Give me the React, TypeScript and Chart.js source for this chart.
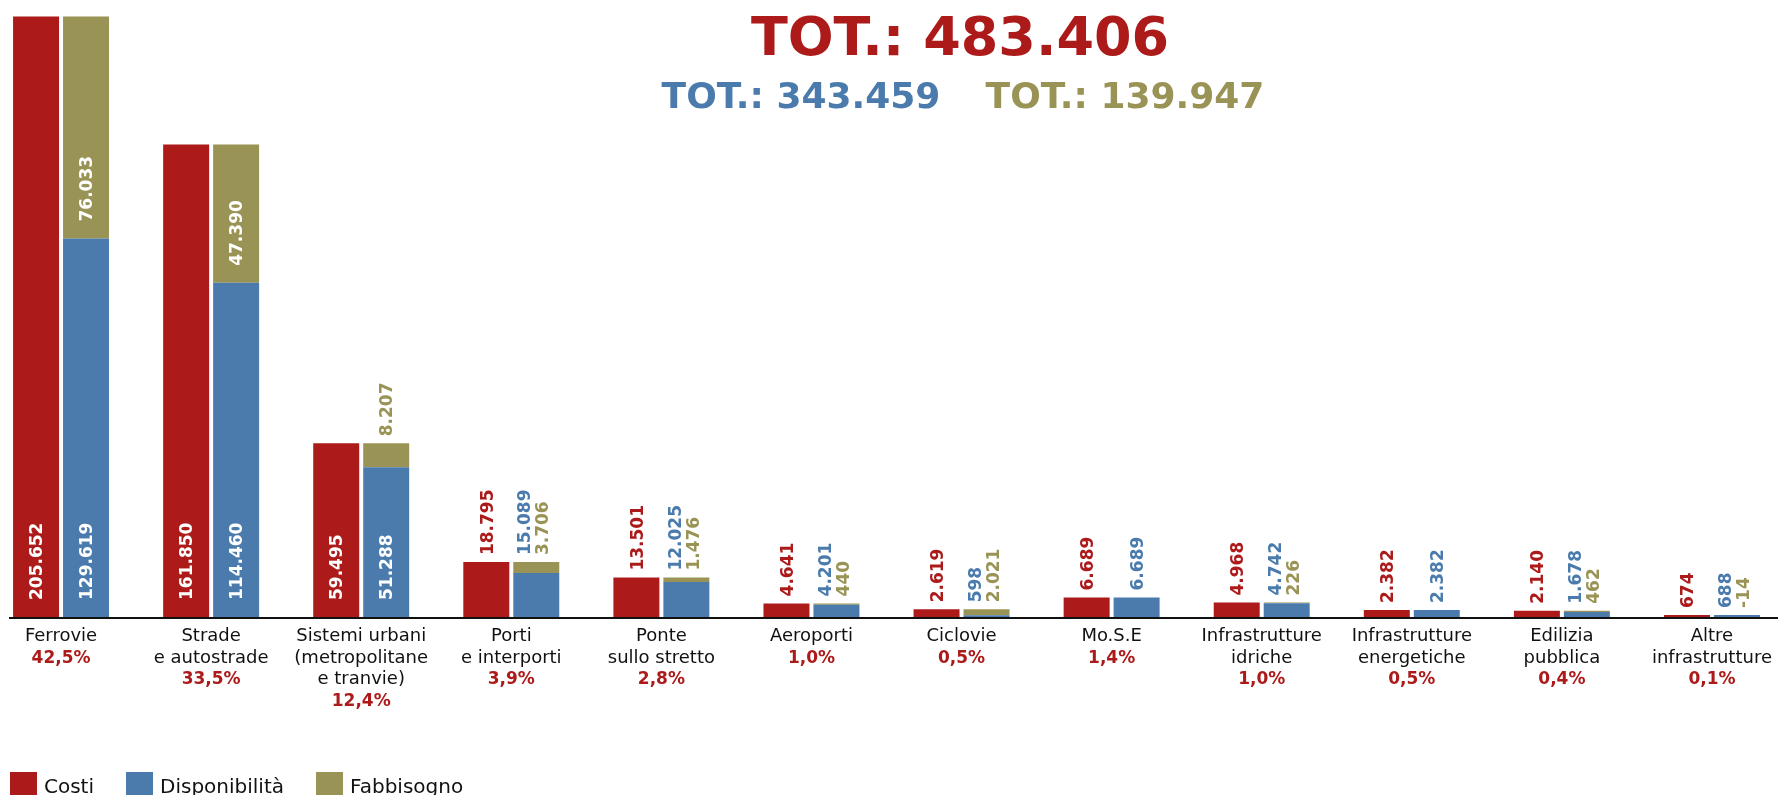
import { useEffect, useRef } from "react";
import { Chart, registerables } from "chart.js";
Chart.register(...registerables);

const categories = [
  ["Ferrovie"],
  ["Strade", "e autostrade"],
  ["Sistemi urbani", "(metropolitane", "e tranvie)"],
  ["Porti", "e interporti"],
  ["Ponte", "sullo stretto"],
  ["Aeroporti"],
  ["Ciclovie"],
  ["Mo.S.E"],
  ["Infrastrutture", "idriche"],
  ["Infrastrutture", "energetiche"],
  ["Edilizia", "pubblica"],
  ["Altre", "infrastrutture"],
];
const costi = [205652, 161850, 59495, 18795, 13501, 4641, 2619, 6689, 4968, 2382, 2140, 674];
const disponibilita = [129619, 114460, 51288, 15089, 12025, 4201, 598, 6689, 4742, 2382, 1678, 688];
const fabbisogno = [76033, 47390, 8207, 3706, 1476, 440, 2021, 0, 226, 0, 462, -14];
const percentuali = ["42,5%", "33,5%", "12,4%", "3,9%", "2,8%", "1,0%", "0,5%", "1,4%", "1,0%", "0,5%", "0,4%", "0,1%"];
const seriesNames = ["Costi", "Disponibilità", "Fabbisogno"];

const RED = "#AC1A1A";
const BLUE = "#4A7BAC";
const OLIVE = "#999355";
const OFF = 40; // canvas is shifted left by this amount
const FONT = '"DejaVu Sans", sans-serif';

const fmt = (n: number) => {
  const s = Math.abs(n).toString().replace(/\B(?=(\d{3})+(?!\d))/g, ".");
  return (n < 0 ? "-" : "") + s;
};
const sum = (a: number[]) => a.reduce((p, c) => p + c, 0);

const VAL_SIZE = 17;
const CAP = 0.73 * VAL_SIZE;

function vText(ctx: CanvasRenderingContext2D, text: string, cx: number, y: number, color: string) {
  ctx.save();
  ctx.translate(cx + CAP / 2, y);
  ctx.rotate(-Math.PI / 2);
  ctx.fillStyle = color;
  ctx.textAlign = "left";
  ctx.textBaseline = "alphabetic";
  ctx.font = `bold ${VAL_SIZE}px ${FONT}`;
  ctx.fillText(text, 0, 0);
  ctx.restore();
}

const overlay = {
  id: "overlay",
  afterDatasetsDraw(chart: any) {
    const ctx: CanvasRenderingContext2D = chart.ctx;
    const ys = chart.scales.y;
    const xs = chart.scales.x;
    const base = ys.getPixelForValue(0);
    const mR = chart.getDatasetMeta(0).data;
    const mB = chart.getDatasetMeta(1).data;
    ctx.save();
    // axis line
    ctx.fillStyle = "#111";
    ctx.fillRect(9 + OFF, base, chart.width, 2);

    ctx.font = `bold ${VAL_SIZE}px ${FONT}`;
    const fits = (txt: string, h: number) => h > ctx.measureText(txt).width + 30;

    categories.forEach((_, i) => {
      // red bar
      const r = mR[i];
      const rt = fmt(costi[i]);
      const rh = base - ys.getPixelForValue(costi[i]);
      if (fits(rt, rh)) vText(ctx, rt, r.x, base - 17, "#fff");
      else vText(ctx, rt, r.x, base - rh - 7, RED);

      // blue/olive stack
      const b = mB[i];
      const bt = fmt(disponibilita[i]);
      const bh = base - ys.getPixelForValue(disponibilita[i]);
      const hasOl = fabbisogno[i] !== 0;
      const ot = fmt(fabbisogno[i]);
      const topVal = disponibilita[i] + Math.max(fabbisogno[i], 0);
      const topY = ys.getPixelForValue(topVal);
      const blueTop = ys.getPixelForValue(disponibilita[i]);
      const oh = blueTop - topY;
      const bIn = fits(bt, bh);
      const oIn = hasOl && fits(ot, oh);
      if (bIn) vText(ctx, bt, b.x, base - 17, "#fff");
      if (oIn) vText(ctx, ot, b.x, blueTop - 17, "#fff");
      const outs: [string, string][] = [];
      if (!bIn) outs.push([bt, BLUE]);
      if (hasOl && !oIn) outs.push([ot, OLIVE]);
      if (outs.length === 1) vText(ctx, outs[0][0], b.x, topY - 7, outs[0][1]);
      else if (outs.length === 2) {
        vText(ctx, outs[0][0], b.x - 12, topY - 7, outs[0][1]);
        vText(ctx, outs[1][0], b.x + 6, topY - 7, outs[1][1]);
      }

      // category labels
      const cx = xs.getPixelForValue(i);
      ctx.textAlign = "center";
      ctx.textBaseline = "alphabetic";
      let y = 641;
      ctx.fillStyle = "#111";
      ctx.font = `18px ${FONT}`;
      categories[i].forEach((line) => {
        ctx.fillText(line, cx, y);
        y += 21.5;
      });
      ctx.fillStyle = RED;
      ctx.font = `bold 17px ${FONT}`;
      ctx.fillText(percentuali[i], cx, y);
      ctx.font = `bold ${VAL_SIZE}px ${FONT}`;
    });

    // titles
    ctx.textAlign = "center";
    ctx.textBaseline = "alphabetic";
    ctx.font = `bold 54px ${FONT}`;
    ctx.fillStyle = RED;
    ctx.fillText(`TOT.: ${fmt(sum(costi))}`, 960 + OFF, 55);
    ctx.font = `bold 36px ${FONT}`;
    ctx.fillStyle = BLUE;
    ctx.fillText(`TOT.: ${fmt(sum(disponibilita))}`, 801 + OFF, 108);
    ctx.fillStyle = OLIVE;
    ctx.fillText(`TOT.: ${fmt(sum(fabbisogno))}`, 1125 + OFF, 108);

    // legend
    const cols = [RED, BLUE, OLIVE];
    let lx = 10 + OFF;
    ctx.textAlign = "left";
    ctx.font = `20px ${FONT}`;
    seriesNames.forEach((name, k) => {
      ctx.fillStyle = cols[k];
      ctx.fillRect(lx, 772, 27, 27);
      ctx.fillStyle = "#111";
      ctx.fillText(name, lx + 34, 793);
      lx += 34 + ctx.measureText(name).width + 32;
    });
    ctx.restore();
  },
};

export default function App() {
  const ref = useRef<HTMLCanvasElement>(null);
  useEffect(() => {
    if (!ref.current) return;
    const chart = new Chart(ref.current, {
      type: "bar",
      data: {
        labels: categories.map((c) => c.join(" ")),
        datasets: [
          { label: seriesNames[0], data: costi, backgroundColor: RED, stack: "a" },
          { label: seriesNames[1], data: disponibilita, backgroundColor: BLUE, stack: "b" },
          { label: seriesNames[2], data: fabbisogno, backgroundColor: OLIVE, stack: "b" },
        ],
      },
      options: {
        responsive: false,
        animation: false,
        events: [],
        datasets: { bar: { categoryPercentage: 0.666, barPercentage: 0.92, borderWidth: 0 } },
        layout: { padding: { left: 26, right: 13, top: 12, bottom: 178 } },
        scales: {
          x: { display: false, stacked: true },
          y: { display: false, stacked: true, min: 0, max: 207200 },
        },
        plugins: { legend: { display: false }, tooltip: { enabled: false } },
      },
      plugins: [overlay],
    });
    return () => chart.destroy();
  }, []);
  return (
    <div style={{ position: "absolute", left: 0, top: 0, width: 1778, height: 795, overflow: "hidden", background: "#fff" }}>
      <canvas ref={ref} width={1840} height={795} style={{ position: "absolute", left: -OFF, top: 0, width: 1840, height: 795 }} />
    </div>
  );
}
